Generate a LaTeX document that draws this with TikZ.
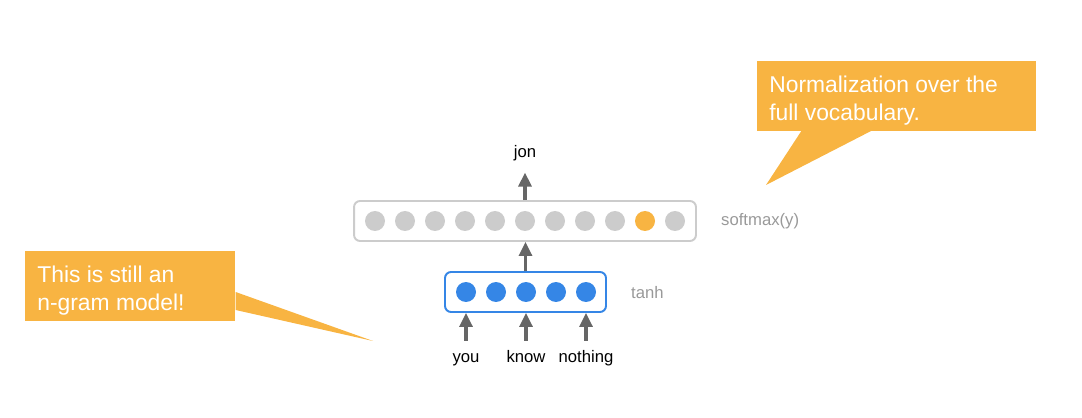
\documentclass[tikz,border=0pt]{standalone}
\usepackage{fontspec}
\setmainfont{Liberation Sans}
\usetikzlibrary{arrows.meta}
\definecolor{noteorange}{HTML}{F8B442}
\definecolor{unitblue}{HTML}{3586E6}
\definecolor{unitgray}{HTML}{CCCCCC}
\definecolor{labelgray}{HTML}{999999}
\definecolor{arrowgray}{HTML}{666666}
\tikzset{
  unit/.style={circle, fill=#1, minimum size=0.4cm, inner sep=0pt},
  layerbox/.style={draw=#1, line width=1.1pt, rounded corners=0.12cm, fill=white},
  arr/.style={arrowgray, line width=1.8pt, -{Triangle[width=0.26cm,length=0.28cm]}},
  word/.style={font=\fontsize{9.5}{11}\selectfont, text=black, anchor=base,
    text height=0.75em, text depth=0.25em},
  layername/.style={font=\fontsize{9.5}{11}\selectfont, text=labelgray, anchor=west},
  note/.style={fill=noteorange, anchor=north west, inner sep=0pt},
  notetext/.style={text=white, anchor=base west, align=left, inner sep=0pt,
    font=\fontsize{13}{16.4}\selectfont},
}

\begin{document}
\begin{tikzpicture}[x=0.02cm, y=-0.02cm]
	\useasboundingbox (0,0) rectangle (1082,418);
	% Layer boxes
	\node[layerbox=unitgray, minimum width=6.84cm, minimum height=0.8cm] (softbox) at (525,221) {};
	\node[layerbox=unitblue, minimum width=3.22cm, minimum height=0.8cm] (tanhbox) at (525.5,292) {};
	% Softmax units
	\foreach \i in {1,...,11} {
		\ifnum\i=10
			\node[unit=noteorange] (s\i) at ({345+30*\i},221) {};
		\else
			\node[unit=unitgray] (s\i) at ({345+30*\i},221) {};
		\fi
	}
	% Hidden units
	\foreach \i in {1,...,5} {
		\node[unit=unitblue] (h\i) at ({436+30*\i},292) {};
	}
	% Layer names
	\node[layername] (softname) at (715,221) {softmax(y)};
	\node[layername] (tanhname) at (625,293) {tanh};
	% Words
	\node[word] (jon) at (525,158) {jon};
	\node[word] (you) at (466,363) {you};
	\node[word] (know) at (526,363) {know};
	\node[word] (nothing) at (586,363) {nothing};
	% Arrows
	\draw[arr, shorten <=0.06cm] (you) -- (you |- tanhbox.south);
	\draw[arr, shorten <=0.06cm] (know) -- (know |- tanhbox.south);
	\draw[arr, shorten <=0.06cm] (nothing) -- (nothing |- tanhbox.south);
	\draw[arr] (tanhbox) -- (tanhbox |- softbox.south);
	\draw[arr, shorten >=0.08cm] (softbox) -- (softbox |- jon.south);
	% Callouts
	\node[note, minimum width=4.2cm, minimum height=1.4cm] (ngramnote) at (25,251) {};
	\node[notetext] (ngramtext) at (37,311) {This is still an\\n-gram model!};
	\coordinate (ngramtip) at (373,341);
	\fill[noteorange] (ngramnote.east |- 0,292) -- (ngramtip) -- (ngramnote.east |- 0,310) -- cycle;
	\node[note, minimum width=5.58cm, minimum height=1.4cm] (vocabnote) at (757,61) {};
	\node[notetext] (vocabtext) at (769,121) {Normalization over the\\full vocabulary.};
	\coordinate (vocabtip) at (766,185);
	\fill[noteorange] (802,130) -- (vocabtip) -- (873,130) -- cycle;
\end{tikzpicture}
\end{document}
